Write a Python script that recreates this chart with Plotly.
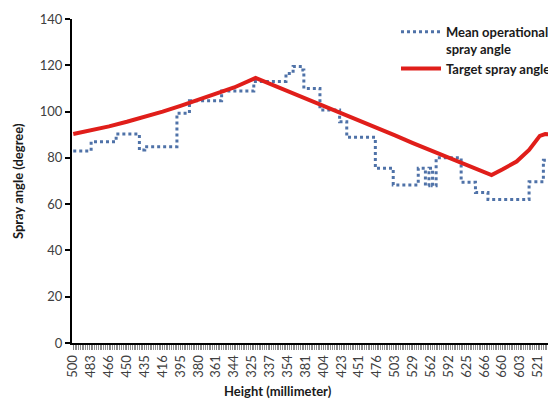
import plotly.graph_objects as go

# Category axis: heights (every 10th category labelled)
height_labels = ["500", "483", "466", "450", "435", "416", "395", "380", "361", "344",
                 "325", "337", "354", "381", "404", "423", "451", "476", "503", "529",
                 "562", "592", "625", "666", "660", "603", "521"]
label_index = list(range(0, 270, 10))

# Mean operational spray angle (step changes: category index, value)
mean_idx = [0, 10, 24, 37, 40, 58, 65, 83, 101, 119, 123, 127, 129, 138, 149, 153,
            169, 179, 193, 197, 199, 201, 203, 217, 225, 232, 255, 263, 268]
mean_val = [83, 87, 90.3, 83.4, 84.8, 99.3, 104.7, 108.9, 113, 116.5, 119.5, 118, 110,
            100.7, 95.6, 88.9, 75.5, 68.3, 75.5, 68, 75.5, 68, 80, 69.5, 65, 62, 69.7,
            79, 79]

# Target spray angle (read at sample categories)
target_idx = [0, 10, 20, 30, 40, 50, 60, 70, 80, 90, 102, 110, 120, 130, 140, 150,
              160, 170, 180, 190, 200, 210, 220, 234, 240, 248, 255, 261, 264, 268]
target_val = [90.3, 91.8, 93.6, 95.6, 97.7, 100.0, 102.5, 105.0, 107.6, 110.4, 114.5,
              112.0, 108.8, 105.6, 102.4, 99.3, 96.0, 92.8, 89.7, 86.4, 83.3, 80.1,
              77.0, 72.6, 75.0, 78.4, 83.4, 89.5, 90.3, 90.0]

FONT = "Lato"

fig = go.Figure()
fig.add_trace(go.Scatter(
    x=mean_idx, y=mean_val, mode="lines", line_shape="hv",
    name="Mean operational<br>spray angle",
    line=dict(color="#4f72a8", width=3, dash="dot"),
))
fig.add_trace(go.Scatter(
    x=target_idx, y=target_val, mode="lines",
    name="Target spray angle",
    line=dict(color="#e01e1a", width=4),
))

# page body has an 8px margin: figure is 548x392 so it ends at the window edge
fig.update_layout(
    width=548, height=392,
    margin=dict(l=64, r=0, t=11, b=57),
    paper_bgcolor="white", plot_bgcolor="white",
    font=dict(family=FONT, size=13, color="#404040"),
    showlegend=True,
    legend=dict(
        x=0.671, y=1.007, xanchor="left", yanchor="top",
        bgcolor="rgba(255,255,255,0)", borderwidth=0,
        font=dict(family=FONT, size=13, color="#1a1a1a", weight="bold"),
        valign="top", tracegroupgap=0, itemwidth=40,
    ),
    xaxis=dict(
        range=[-0.7, 269.5],
        tickmode="array", tickvals=label_index, ticktext=height_labels,
        tickangle=-90, ticks="outside", ticklen=5, tickwidth=1, tickcolor="#7f7f7f",
        minor=dict(dtick=1, tick0=0, ticks="outside", ticklen=5, tickwidth=1,
                   tickcolor="#8c8c8c"),
        showline=True, linecolor="black", linewidth=2,
        showgrid=False, zeroline=False,
        tickfont=dict(family=FONT, size=13, color="#404040"),
    ),
    yaxis=dict(
        range=[0, 140], tickmode="linear", tick0=0, dtick=20,
        ticks="outside", ticklen=5, tickwidth=2, tickcolor="black",
        showline=True, linecolor="black", linewidth=2,
        showgrid=False, zeroline=False,
        tickfont=dict(family=FONT, size=13, color="#404040"),
    ),
    annotations=[
        dict(text="<b>Height (millimeter)</b>", xref="paper", yref="paper",
             x=(278 - 72) / 484, y=-(391 - 343) / 324, xanchor="center",
             yanchor="middle", showarrow=False,
             font=dict(family=FONT, size=13, color="#1a1a1a")),
        dict(text="<b>Spray angle (degree)</b>", xref="paper", yref="paper",
             x=(18 - 72) / 484, y=0.5, xanchor="center", yanchor="middle",
             textangle=-90, showarrow=False,
             font=dict(family=FONT, size=13, color="#1a1a1a")),
    ],
)

fig.write_html("out.html")
